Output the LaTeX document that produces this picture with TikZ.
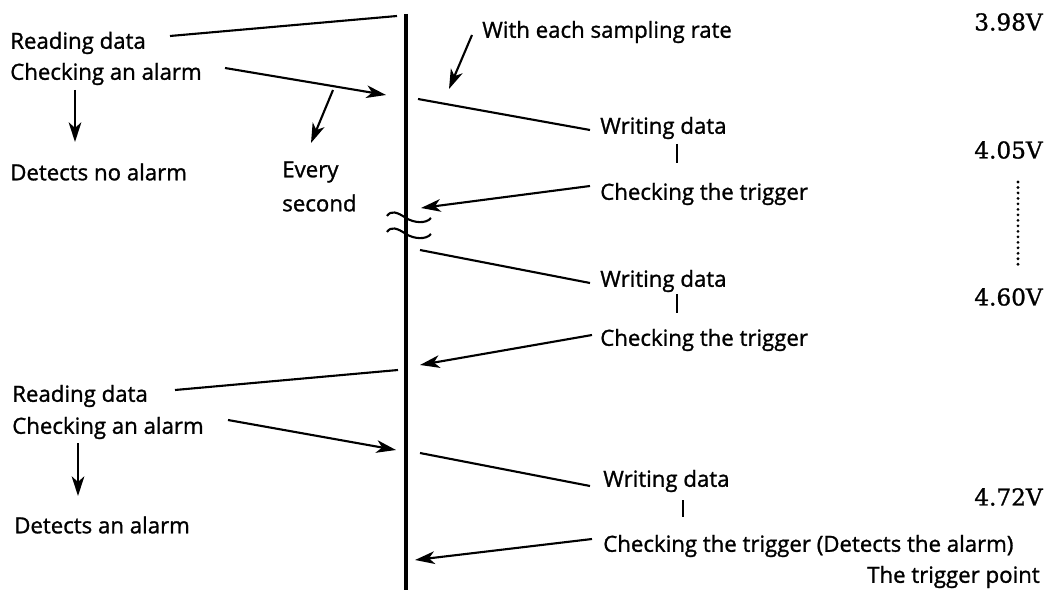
\documentclass[tikz,border=0pt]{standalone}
\usepackage{fontspec}
\setmainfont{Open Sans}
\newfontfamily\lblfont[RawFeature={embolden=1.2}]{Open Sans}
\newfontfamily\voltfont[RawFeature={embolden=1.0}]{DejaVu Serif}
\usetikzlibrary{arrows.meta}
\begin{document}
\begin{tikzpicture}[x=0.025cm,y=-0.025cm,
  lbl/.style={anchor=west,inner sep=0pt,font=\lblfont\fontsize{15.8}{18}\selectfont},
  volt/.style={anchor=east,inner sep=0pt,font=\voltfont\fontsize{16.5}{18}\selectfont},
  ln/.style={line width=1.5pt},
  arr/.style={line width=1.5pt,-{Stealth[length=14pt,width=9pt,inset=4pt]}},
  mainline/.style={line width=2.9pt}]
\useasboundingbox (0,0) rectangle (1050,590);
% main time line
\coordinate (top) at (406,14);
\coordinate (bot) at (406,590);
\draw[mainline] (top) -- (bot);
% break mark
\draw[ln] (387,216) .. controls (391,210) and (397,212) .. (406,218) .. controls (414,223) and (426,224) .. (431,218);
\draw[ln] (387,232) .. controls (391,226) and (397,228) .. (406,234) .. controls (414,239) and (426,240) .. (431,234);
% ---- upper left
\node[lbl] (rd1) at (10,43) {Reading data};
\node[lbl] (ca1) at (10,74) {Checking an alarm};
\node[lbl] (dn1) at (10,172) {Detects no alarm};
\node[lbl] (ev) at (282,172) {Every};
\node[lbl] (se) at (282,203) {second};
\coordinate (rd1a) at (170,36); \coordinate (rd1b) at (397,16);
\draw[ln] (rd1a) -- (rd1b);
\coordinate (ca1a) at (225,68); \coordinate (ca1b) at (386,95);
\draw[arr] (ca1a) -- (ca1b);
\coordinate (d1a) at (75,90); \coordinate (d1b) at (75,142);
\draw[arr] (d1a) -- (d1b);
\coordinate (eva) at (333,90); \coordinate (evb) at (311,143);
\draw[arr] (eva) -- (evb);
% ---- upper right
\node[lbl] (ws) at (482,32) {With each sampling rate};
\coordinate (wsa) at (472,35); \coordinate (wsb) at (449,89);
\draw[arr] (wsa) -- (wsb);
\node[lbl] (wd1) at (600,128) {Writing data};
\coordinate (wd1a) at (418,99); \coordinate (wd1b) at (590,130);
\draw[ln] (wd1a) -- (wd1b);
\coordinate (t1a) at (677,144); \coordinate (t1b) at (677,163);
\draw[ln] (t1a) -- (t1b);
\node[lbl] (ct1) at (600,194) {Checking the trigger};
\coordinate (ct1a) at (590,186); \coordinate (ct1b) at (421,208);
\draw[arr] (ct1a) -- (ct1b);
\node[lbl] (wd2) at (600,281) {Writing data};
\coordinate (wd2a) at (420,250); \coordinate (wd2b) at (590,283);
\draw[ln] (wd2a) -- (wd2b);
\coordinate (t2a) at (677,294); \coordinate (t2b) at (677,313);
\draw[ln] (t2a) -- (t2b);
\node[lbl] (ct2) at (600,340) {Checking the trigger};
\coordinate (ct2a) at (592,335); \coordinate (ct2b) at (420,365);
\draw[arr] (ct2a) -- (ct2b);
% ---- lower left
\node[lbl] (rd2) at (12,396) {Reading data};
\node[lbl] (ca2) at (12,428) {Checking an alarm};
\node[lbl] (dn2) at (14,525) {Detects an alarm};
\coordinate (rd2a) at (175,390); \coordinate (rd2b) at (398,370);
\draw[ln] (rd2a) -- (rd2b);
\coordinate (ca2a) at (228,420); \coordinate (ca2b) at (396,450);
\draw[arr] (ca2a) -- (ca2b);
\coordinate (d2a) at (78,443); \coordinate (d2b) at (78,496);
\draw[arr] (d2a) -- (d2b);
% ---- lower right
\node[lbl] (wd3) at (603,481) {Writing data};
\coordinate (wd3a) at (420,453); \coordinate (wd3b) at (590,486);
\draw[ln] (wd3a) -- (wd3b);
\coordinate (t3a) at (683,500); \coordinate (t3b) at (683,517);
\draw[ln] (t3a) -- (t3b);
\node[lbl] (ct3) at (603,546) {Checking the trigger (Detects the alarm)};
\coordinate (ct3a) at (592,539); \coordinate (ct3b) at (415,560);
\draw[arr] (ct3a) -- (ct3b);
\node[lbl,anchor=east] (tp) at (1040,577) {The trigger point};
% ---- voltages
\node[volt] (v1) at (1043,22) {3.98V};
\node[volt] (v2) at (1043,150) {4.05V};
\node[volt] (v3) at (1043,297) {4.60V};
\node[volt] (v4) at (1043,497) {4.72V};
\coordinate (dta) at (1018,182); \coordinate (dtb) at (1018,268);
\draw[line width=2.2pt,line cap=round,dash pattern=on 0pt off 3.9pt] (dta) -- (dtb);
\end{tikzpicture}
\end{document}
